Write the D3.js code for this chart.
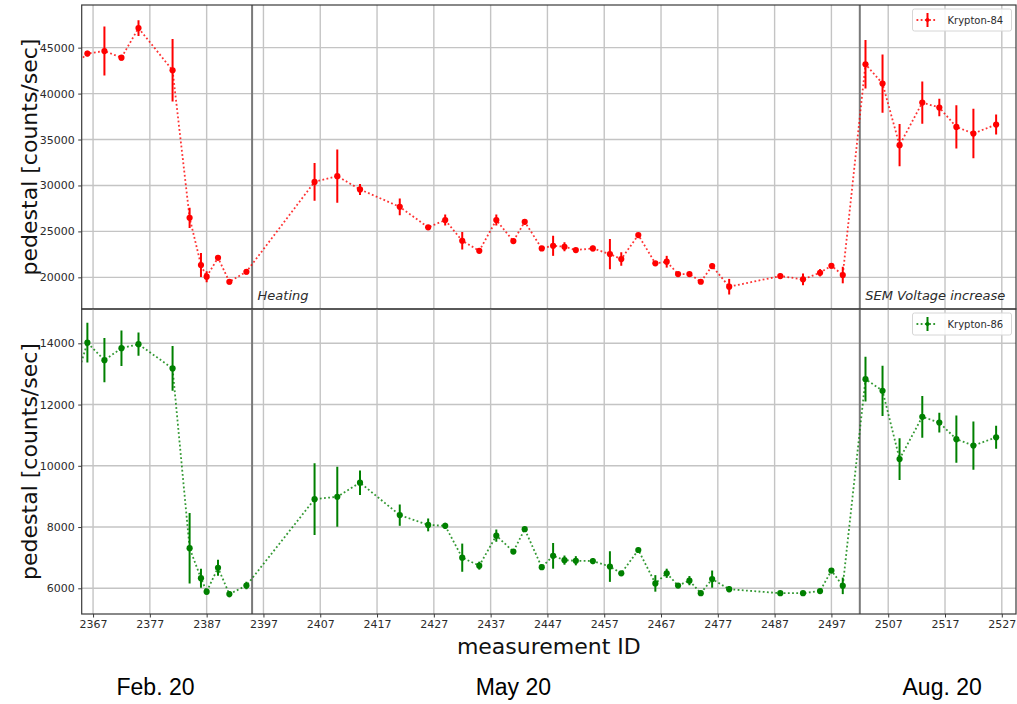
<!DOCTYPE html>
<html>
<head>
<meta charset="utf-8">
<script src="https://cdn.jsdelivr.net/npm/d3@7"></script>
<style>
  html, body { margin: 0; padding: 0; background: #fff; }
  svg { display: block; }
  text { font-family: "DejaVu Sans", sans-serif; }
</style>
</head>
<body>
<svg id="chart" width="1017" height="704"></svg>
<script>
// Pedestal rate per measurement (two krypton isotopes)
const measurementIds = [2363, 2366, 2369, 2372, 2375, 2381, 2384, 2386, 2387, 2389, 2391, 2394,
  2406, 2410, 2414, 2421, 2426, 2429, 2432, 2435, 2438, 2441, 2443, 2446, 2448, 2450, 2452,
  2455, 2458, 2460, 2463, 2466, 2468, 2470, 2472, 2474, 2476, 2479, 2488, 2492, 2495, 2497,
  2499, 2503, 2506, 2509, 2513, 2516, 2519, 2522, 2526];

const kr84Values = [42700, 44350, 44630, 43910, 47130, 42530, 26480, 21340, 20070, 22130, 19520, 20610,
  30390, 31010, 29570, 27670, 25440, 26230, 23980, 22890, 26230, 23950, 26040, 23150, 23440, 23330, 22970,
  23150, 22530, 21990, 24600, 21520, 21700, 20360, 20360, 19520, 21230, 18980, 20140, 19780, 20500, 21260,
  20250, 43190, 41090, 34380, 39020, 38480, 36370, 35650, 36630];
const kr84Errors = [500, 300, 2670, 300, 850, 3400, 1100, 1300, 600, 300, 300, 300,
  2050, 2900, 600, 900, 200, 600, 950, 250, 600, 250, 300, 250, 1100, 500, 200,
  300, 1650, 730, 200, 200, 640, 200, 200, 250, 300, 850, 300, 640, 400, 300,
  900, 2650, 3170, 2300, 2300, 960, 2350, 2700, 1090];

const kr86Values = [12200, 14020, 13450, 13840, 13970, 13180, 7310, 6330, 5890, 6670, 5810, 6090,
  8910, 8990, 9450, 8390, 8070, 8040, 7000, 6740, 7720, 7200, 7930, 6690, 7060, 6920, 6900,
  6890, 6710, 6490, 7250, 6160, 6490, 6090, 6250, 5840, 6300, 5970, 5840, 5840, 5910, 6580,
  6080, 12830, 12450, 10220, 11600, 11410, 10870, 10660, 10930];
const kr86Errors = [600, 650, 720, 580, 380, 730, 1150, 310, 100, 260, 100, 120,
  1170, 980, 400, 350, 210, 100, 460, 130, 200, 80, 80, 80, 420, 150, 150,
  100, 500, 80, 80, 270, 150, 80, 150, 80, 280, 100, 60, 60, 60, 80,
  270, 730, 820, 680, 680, 320, 770, 790, 375];

const xTicks = d3.range(2367, 2528, 10);
const kr84Ticks = [20000, 25000, 30000, 35000, 40000, 45000];
const kr86Ticks = [6000, 8000, 10000, 12000, 14000];

// Run markers: heating period and SEM voltage change
const eventIds = [2395, 2502];
const eventLabels = ["Heating", "SEM Voltage increase"];

const periodLabels = ["Feb. 20", "May 20", "Aug. 20"];
const periodCenters = [2378, 2441, 2516.5];

const svg = d3.select("#chart");
const plotLeft = 81.7, plotRight = 1016;
const topPanel = { y0: 5, y1: 309 };
const botPanel = { y0: 309, y1: 614 };

const x = d3.scaleLinear().domain([2365, 2529.5]).range([plotLeft, plotRight]);
const yTop = d3.scaleLinear().domain([16554, 49641]).range([topPanel.y1, topPanel.y0]);
const yBot = d3.scaleLinear().domain([5161, 15120]).range([botPanel.y1, botPanel.y0]);

const textColor = "#2b2b2b";
const gridColor = "#c4c4c4";

function panel(id, yScale, box, yTicks, values, errors, color, legendLabel, showX) {
  const g = svg.append("g");
  const clipId = "clip-" + id;
  svg.append("clipPath").attr("id", clipId)
    .append("rect")
    .attr("x", plotLeft).attr("y", box.y0)
    .attr("width", plotRight - plotLeft).attr("height", box.y1 - box.y0);

  // grid
  const grid = g.append("g");
  grid.selectAll("line.gx").data(xTicks).join("line")
    .attr("x1", d => x(d)).attr("x2", d => x(d))
    .attr("y1", box.y0).attr("y2", box.y1)
    .attr("stroke", gridColor).attr("stroke-width", 1.4);
  grid.selectAll("line.gy").data(yTicks).join("line")
    .attr("x1", plotLeft).attr("x2", plotRight)
    .attr("y1", d => yScale(d)).attr("y2", d => yScale(d))
    .attr("stroke", gridColor).attr("stroke-width", 1.4);

  // event markers
  g.selectAll("line.ev").data(eventIds).join("line")
    .attr("x1", d => x(d)).attr("x2", d => x(d))
    .attr("y1", box.y0).attr("y2", box.y1)
    .attr("stroke", "#7a7a7a").attr("stroke-width", 2);

  const data = measurementIds.map((m, i) => ({ m, v: values[i], e: errors[i] }));
  const plot = g.append("g").attr("clip-path", `url(#${clipId})`);

  plot.append("path")
    .datum(data)
    .attr("fill", "none")
    .attr("stroke", color)
    .attr("stroke-opacity", 0.8)
    .attr("stroke-width", 1.8)
    .attr("stroke-dasharray", "1.8,2.4")
    .attr("d", d3.line().x(d => x(d.m)).y(d => yScale(d.v)));

  plot.selectAll("line.err").data(data).join("line")
    .attr("x1", d => x(d.m)).attr("x2", d => x(d.m))
    .attr("y1", d => yScale(d.v - d.e)).attr("y2", d => yScale(d.v + d.e))
    .attr("stroke", color).attr("stroke-width", 2);

  plot.selectAll("circle").data(data).join("circle")
    .attr("cx", d => x(d.m)).attr("cy", d => yScale(d.v))
    .attr("r", 3.1).attr("fill", color);

  // frame
  g.append("rect")
    .attr("x", plotLeft).attr("y", box.y0)
    .attr("width", plotRight - plotLeft).attr("height", box.y1 - box.y0)
    .attr("fill", "none").attr("stroke", "#3a3a3a").attr("stroke-width", 1.2);

  // y axis
  const yAxis = d3.axisLeft(yScale).tickValues(yTicks).tickSize(3.5).tickPadding(3.5)
    .tickFormat(d3.format("d"));
  const ya = g.append("g").attr("transform", `translate(${plotLeft},0)`).call(yAxis);
  ya.select(".domain").remove();
  ya.selectAll("line").attr("stroke", "#3a3a3a");
  ya.selectAll("text").attr("fill", textColor).style("font-size", "11px")
    .style("font-family", "DejaVu Sans, sans-serif");

  if (showX) {
    const xAxis = d3.axisBottom(x).tickValues(xTicks).tickSize(3.5).tickPadding(3)
      .tickFormat(d3.format("d"));
    const xa = g.append("g").attr("transform", `translate(0,${box.y1})`).call(xAxis);
    xa.select(".domain").remove();
    xa.selectAll("line").attr("stroke", "#3a3a3a");
    xa.selectAll("text").attr("fill", textColor).style("font-size", "11px")
      .style("font-family", "DejaVu Sans, sans-serif");
  }

  // y label
  g.append("text")
    .attr("transform", `translate(29,${(box.y0 + box.y1) / 2}) rotate(-90)`)
    .attr("text-anchor", "middle")
    .attr("dominant-baseline", "central")
    .attr("fill", "#111")
    .style("font-size", "22px")
    .text("pedestal [counts/sec]");

  // legend
  const lg = g.append("g").attr("transform", `translate(912.5,${box.y0 + 4})`);
  lg.append("rect").attr("width", 99).attr("height", 22).attr("rx", 2)
    .attr("fill", "#fff").attr("fill-opacity", 0.85)
    .attr("stroke", "#d6d6d6").attr("stroke-width", 1);
  lg.append("line").attr("x1", 4).attr("x2", 25).attr("y1", 11).attr("y2", 11)
    .attr("stroke", color).attr("stroke-opacity", 0.8).attr("stroke-width", 1.8)
    .attr("stroke-dasharray", "1.8,2.4");
  lg.append("line").attr("x1", 15).attr("x2", 15).attr("y1", 4).attr("y2", 18)
    .attr("stroke", color).attr("stroke-width", 2);
  lg.append("circle").attr("cx", 15).attr("cy", 11).attr("r", 2).attr("fill", color);
  lg.append("text").attr("x", 35).attr("y", 15)
    .attr("fill", textColor).style("font-size", "10px")
    .text(legendLabel);

  return g;
}

panel("kr84", yTop, topPanel, kr84Ticks, kr84Values, kr84Errors, "#ff0000", "Krypton-84", false);
panel("kr86", yBot, botPanel, kr86Ticks, kr86Values, kr86Errors, "#008000", "Krypton-86", true);

// event annotations
svg.selectAll("text.event").data(eventIds).join("text")
  .attr("class", "event")
  .attr("x", d => x(d) + 5.5)
  .attr("y", 299.5)
  .attr("fill", textColor)
  .style("font-size", "13px")
  .style("font-style", "italic")
  .text((d, i) => eventLabels[i]);

// x label
svg.append("text")
  .attr("x", (plotLeft + plotRight) / 2)
  .attr("y", 654)
  .attr("text-anchor", "middle")
  .attr("fill", "#111")
  .style("font-size", "22px")
  .text("measurement ID");

// period labels under the axis
svg.selectAll("text.period").data(periodLabels).join("text")
  .attr("class", "period")
  .attr("x", (d, i) => x(periodCenters[i]))
  .attr("y", 695)
  .attr("text-anchor", "middle")
  .attr("fill", "#000")
  .style("font-family", "Liberation Sans, Arial, sans-serif")
  .style("font-size", "23px")
  .text(d => d);
</script>
</body>
</html>
